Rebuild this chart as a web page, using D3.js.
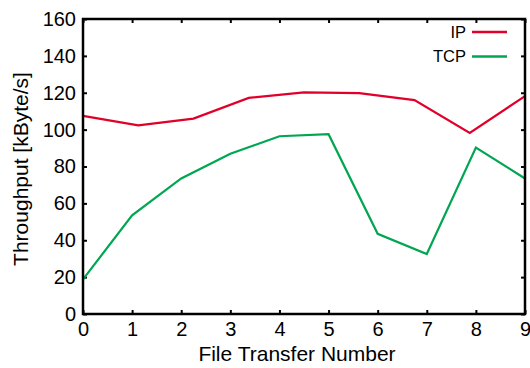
<!DOCTYPE html>
<meta charset='utf-8'>
<body style='margin:0;background:#fff'>
<script src='https://d3js.org/d3.v7.min.js'></script>
<script>
  // values
  const ipX = [0, 1.125, 2.25, 3.375, 4.5, 5.625, 6.75, 7.875, 9];
  const ipY = [107.5, 102.3, 106, 117.2, 120.2, 119.8, 116, 98.2, 118.2];
  const tcpX = [0, 1, 2, 3, 4, 5, 6, 7, 8, 9];
  const tcpY = [18.8, 53.5, 73.5, 86.9, 96.4, 97.5, 43.5, 32.5, 90.3, 73.5];
  const xTicks = [0, 1, 2, 3, 4, 5, 6, 7, 8, 9];
  const yTicks = [0, 20, 40, 60, 80, 100, 120, 140, 160];

  const width = 530, height = 368;
  const margin = { top: 19, right: 5, bottom: 54, left: 83 };
  const w = width - margin.left - margin.right;
  const h = height - margin.top - margin.bottom;

  const svg = d3.select('body').append('svg')
    .attr('width', width)
    .attr('height', height)
    .style('font-family', "'Liberation Sans', Arial, sans-serif");

  const g = svg.append('g')
    .attr('transform', `translate(${margin.left}, ${margin.top})`);

  const x = d3.scaleLinear().domain([0, 9]).range([0, w]);
  const y = d3.scaleLinear().domain([0, 160]).range([h, 0]);

  // axes, ticks point inward
  g.append('g')
    .attr('transform', `translate(0, ${h})`)
    .call(d3.axisBottom(x).tickValues(xTicks).tickSize(-4).tickPadding(8).tickFormat(d3.format('d')));
  g.append('g')
    .call(d3.axisTop(x).tickValues(xTicks).tickSize(-4).tickFormat(''));
  g.append('g')
    .call(d3.axisLeft(y).tickValues(yTicks).tickSize(-4).tickPadding(7));
  g.append('g')
    .attr('transform', `translate(${w}, 0)`)
    .call(d3.axisRight(y).tickValues(yTicks).tickSize(-4).tickFormat(''));

  g.selectAll('.domain').remove();
  g.selectAll('.tick line').attr('stroke', '#000').attr('stroke-width', 2);
  g.selectAll('.tick text').attr('fill', '#000').style('font-size', '20px');

  const line = d3.line().x(d => x(d[0])).y(d => y(d[1]));

  g.append('path')
    .datum(d3.zip(ipX, ipY))
    .attr('fill', 'none')
    .attr('stroke', '#e0002a')
    .attr('stroke-width', 2.2)
    .attr('d', line);

  g.append('path')
    .datum(d3.zip(tcpX, tcpY))
    .attr('fill', 'none')
    .attr('stroke', '#00a651')
    .attr('stroke-width', 2.2)
    .attr('d', line);

  // frame
  g.append('rect')
    .attr('width', w)
    .attr('height', h)
    .attr('fill', 'none')
    .attr('stroke', '#000')
    .attr('stroke-width', 2.5);

  // legend
  const legend = [['IP', '#e0002a'], ['TCP', '#00a651']];
  legend.forEach(([name, color], i) => {
    const ly = 13 + i * 24.5;
    g.append('text')
      .attr('x', 383)
      .attr('y', ly)
      .attr('dy', '0.35em')
      .attr('text-anchor', 'end')
      .style('font-size', '16.5px')
      .text(name);
    g.append('line')
      .attr('x1', 389).attr('x2', 424)
      .attr('y1', ly).attr('y2', ly)
      .attr('stroke', color)
      .attr('stroke-width', 2.5);
  });

  // axis titles
  svg.append('text')
    .attr('x', 297)
    .attr('y', 361)
    .attr('text-anchor', 'middle')
    .style('font-size', '21px')
    .text('File Transfer Number');

  svg.append('text')
    .attr('transform', 'translate(28, 169) rotate(-90)')
    .attr('text-anchor', 'middle')
    .style('font-size', '21px')
    .text('Throughput [kByte/s]');
</script>
